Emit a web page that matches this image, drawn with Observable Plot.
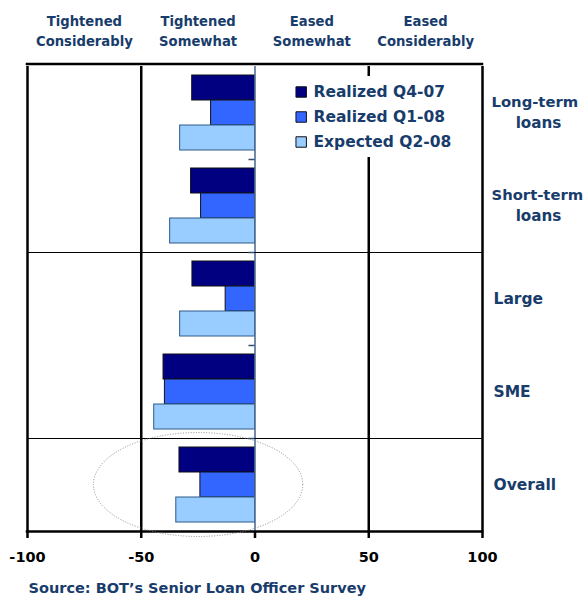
<!DOCTYPE html>
<html>
<head>
<meta charset="utf-8">
<script src="https://cdn.jsdelivr.net/npm/d3@7"></script>
<script src="https://cdn.jsdelivr.net/npm/@observablehq/plot@0.6"></script>
<style>
  html, body { margin: 0; padding: 0; background: #fff; }
  #chart svg { display: block; }
</style>
</head>
<body>
<div id="chart"></div>
<script>
// ---- data ----
const groups = ["Long-term loans", "Short-term loans", "Large", "SME", "Overall"];
const multiLineLabels = [["Long-term", "loans"], ["Short-term", "loans"]];
const singleLineLabels = ["Large", "SME", "Overall"];
const series = ["Realized Q4-07", "Realized Q1-08", "Expected Q2-08"];
const realizedQ407 = [-27.6, -28.1, -27.5, -40.2, -33.2];
const realizedQ108 = [-19.3, -23.7, -12.9, -39.6, -24.0];
const expectedQ208 = [-32.9, -37.3, -32.9, -44.3, -34.6];
const seriesColors = ["#000080", "#3366FF", "#99CCFF"];
const seriesStrokes = ["#101018", "#101018", "#2f5a88"];
const headerLabels = ["Tightened\nConsiderably", "Tightened\nSomewhat", "Eased\nSomewhat", "Eased\nConsiderably"];
const headerX = [-75, -25, 25, 75];
const xTicks = [-100, -50, 0, 50, 100];
const frameX = [-100, 100];
const gridX = [-50, 50];
const sourceText = "Source: BOT\u2019s Senior Loan Officer Survey";

const textBlue = "#183c6b";
const seriesValues = [realizedQ407, realizedQ108, expectedQ208];
const rows = [];
series.forEach((s, j) => groups.forEach((g, i) => rows.push({group: g, series: s, value: seriesValues[j][i]})));
const firstGroup = groups[0];
const lastGroup = groups[groups.length - 1];

const plot = Plot.plot({
  width: 584,
  height: 598,
  marginLeft: 27,
  marginRight: 102,
  marginTop: 65,
  marginBottom: 66,
  style: {fontFamily: "DejaVu Sans", fontWeight: "bold", background: "white", overflow: "visible"},
  x: {domain: [-100, 100]},
  y: {domain: series, paddingInner: 0, paddingOuter: 0.34, axis: null},
  fy: {domain: groups, padding: 0, axis: null},
  color: {domain: series, range: seriesColors},
  marks: [
    Plot.ruleX(gridX.concat(frameX), {stroke: "black", strokeWidth: 2.5}),
    ...series.map((s, j) => Plot.barX(rows.filter(d => d.series === s), {
      x: "value", y: "series", fy: "group", fill: "series",
      stroke: seriesStrokes[j], strokeWidth: 1
    })),
    Plot.ruleX([0], {stroke: "#4f6f98", strokeWidth: 1.6}),
    // legend
    Plot.rect([null], {x1: 14, x2: 90, fy: () => firstGroup, fill: "white", insetTop: 10, insetBottom: 2}),
    Plot.dot(series, {x: 20.3, y: d => d, fy: () => firstGroup, symbol: "square", r: 5.9,
      fill: d => d, stroke: "#101018", strokeWidth: 1, dy: 4}),
    Plot.text(series, {x: 25.7, y: d => d, fy: () => firstGroup, text: d => d, textAnchor: "start",
      fontSize: 15.5, fontWeight: "bold", fill: textBlue, dy: 4.5}),
    // column headers
    Plot.text(headerLabels.map((t, i) => ({t, x: headerX[i]})), {
      x: "x", text: "t", fy: () => firstGroup, frameAnchor: "top", dy: -36.5,
      lineAnchor: "middle", lineHeight: 1.52, fontSize: 13.2, fontWeight: "bold", fill: textBlue
    }),
    // category labels
    Plot.text(singleLineLabels, {fy: d => d, text: d => d, frameAnchor: "right", dx: 11,
      textAnchor: "start", lineAnchor: "middle", fontSize: 15.5, fontWeight: "bold", fill: textBlue}),
    Plot.text(multiLineLabels, {fy: (d, i) => groups[i], text: d => d[0], frameAnchor: "right", dx: 9, dy: -10.3,
      textAnchor: "start", lineAnchor: "middle", fontSize: 14.8, fontWeight: "bold", fill: textBlue}),
    Plot.text(multiLineLabels, {fy: (d, i) => groups[i], text: d => d[1], frameAnchor: "right", dx: 56, dy: 10.3,
      textAnchor: "middle", lineAnchor: "middle", fontSize: 15.2, fontWeight: "bold", fill: textBlue}),
    // x axis
    Plot.axisX({ticks: xTicks, tickSize: 7, tickPadding: 13.5, tickFormat: d => String(d),
      strokeWidth: 2.5, color: "black", fontSize: 14.5, fontWeight: "bold", anchor: "bottom"}),
    // source
    Plot.text([sourceText], {fy: () => lastGroup, text: d => d, frameAnchor: "bottom-left", dx: 1, dy: 61,
      textAnchor: "start", lineAnchor: "bottom", fontSize: 14.5, fontWeight: "bold", fill: textBlue})
  ]
});

document.getElementById("chart").appendChild(plot);

// ---- decorations positioned through the plot's own scales ----
(function () {
  const sx = plot.scale("x");
  const sfy = plot.scale("fy");
  const svgEl = plot.tagName.toLowerCase() === "svg" ? plot : plot.querySelector("svg");
  const deco = d3.select(svgEl).append("g");
  const xl = sx.apply(-100), xr = sx.apply(100), x0 = sx.apply(0);
  const frameTop = sfy.range[0], frameBottom = sfy.range[1];

  deco.append("line").attr("x1", xl - 1.25).attr("x2", xr + 1.25).attr("y1", frameTop - 1).attr("y2", frameTop - 1)
    .attr("stroke", "black").attr("stroke-width", 2.5);
  deco.append("line").attr("x1", xl - 1.25).attr("x2", xr + 1.25).attr("y1", frameBottom - 0.5).attr("y2", frameBottom - 0.5)
    .attr("stroke", "black").attr("stroke-width", 2.5);
  ["Large", "Overall"].forEach(g => {
    const y = Math.round(sfy.apply(g)) + 0.5;
    deco.append("line").attr("x1", xl).attr("x2", xr).attr("y1", y).attr("y2", y)
      .attr("stroke", "#000").attr("stroke-width", 1.2);
  });
  groups.slice(1).forEach(g => {
    const y = Math.round(sfy.apply(g)) + 0.5;
    deco.append("line").attr("x1", x0 - 6).attr("x2", x0).attr("y1", y).attr("y2", y)
      .attr("stroke", "#2e4c75").attr("stroke-width", 1.5);
  });
  const ellipseCenter = -24.8, ellipseHalfWidth = 46;
  deco.append("ellipse")
    .attr("cx", sx.apply(ellipseCenter))
    .attr("cy", sfy.apply("Overall") + sfy.bandwidth / 2)
    .attr("rx", sx.apply(ellipseHalfWidth) - x0)
    .attr("ry", 52)
    .attr("fill", "none").attr("stroke", "#8c8c8c").attr("stroke-width", 1)
    .attr("stroke-dasharray", "1 1.6");
})();
</script>
</body>
</html>
